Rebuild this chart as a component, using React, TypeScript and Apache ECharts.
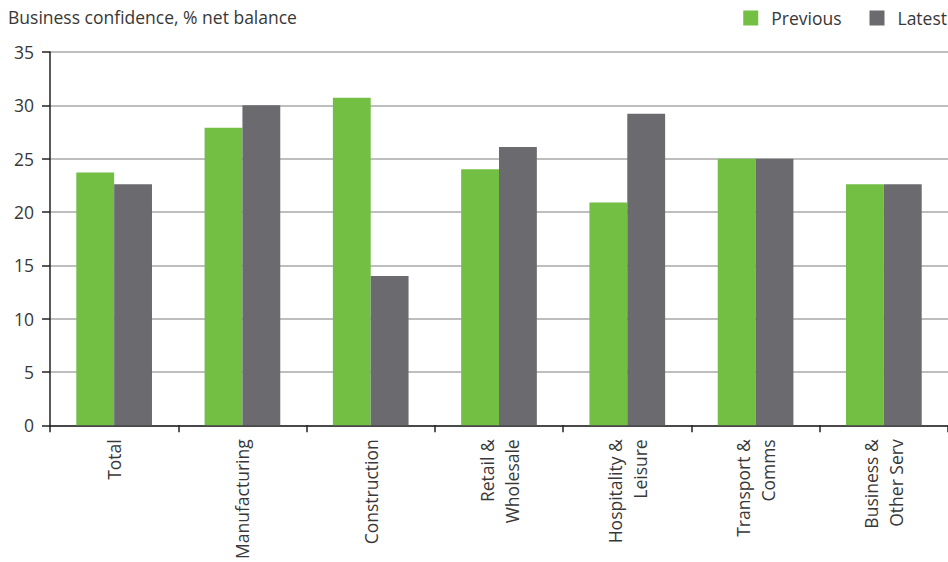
import React, { useEffect, useRef } from "react";
import * as echarts from "echarts";

const categories = [
  "Total",
  "Manufacturing",
  "Construction",
  "Retail &\nWholesale",
  "Hospitality &\nLeisure",
  "Transport &\nComms",
  "Business &\nOther Serv",
];
const previous = [23.7, 27.9, 30.7, 24.0, 20.9, 25.0, 22.6];
const latest = [22.6, 30.0, 14.0, 26.1, 29.2, 25.0, 22.6];
const yTicks = { min: 0, max: 35, interval: 5 };
const title = "Business confidence, % net balance";

const FONT = "'Open Sans', 'Noto Sans', sans-serif";
const TEXT = "#383838";
const FS = 17.5;

export default function App() {
  const ref = useRef<HTMLDivElement>(null);
  useEffect(() => {
    if (!ref.current) return;
    const chart = echarts.init(ref.current, undefined, { renderer: "svg" });
    chart.setOption({
      animation: false,
      textStyle: { fontFamily: FONT },
      title: {
        text: title,
        left: 8,
        top: 8,
        padding: 0,
        textStyle: { fontFamily: FONT, fontSize: FS, fontWeight: "normal", color: TEXT },
      },
      legend: {
        right: 1,
        top: 9,
        padding: 0,
        itemWidth: 15,
        itemHeight: 15,
        itemGap: 28,
        icon: "rect",
        textStyle: { fontFamily: FONT, fontSize: FS, color: TEXT, padding: [0, 0, 0, 8] },
        data: ["Previous", "Latest"],
      },
      grid: { left: 50, right: 0, top: 52, bottom: 136.5, containLabel: false },
      xAxis: {
        type: "category",
        data: categories,
        axisLine: { lineStyle: { color: "#222", width: 1.5 } },
        axisTick: { show: true, length: 7, lineStyle: { color: "#222", width: 1.5 } },
        axisLabel: {
          rotate: 90,
          interval: 0,
          margin: 14,
          fontFamily: FONT,
          fontSize: FS,
          lineHeight: 25,
          color: TEXT,
        },
      },
      yAxis: {
        type: "value",
        min: yTicks.min,
        max: yTicks.max,
        interval: yTicks.interval,
        axisLine: { show: true, lineStyle: { color: "#222", width: 1.5 } },
        axisTick: { show: true, length: 8, lineStyle: { color: "#222", width: 1.5 } },
        axisLabel: { fontFamily: FONT, fontSize: FS, color: TEXT, margin: 16 },
        splitLine: { show: true, lineStyle: { color: "#a8a8a8", width: 1.5 } },
      },
      series: [
        {
          name: "Previous",
          type: "bar",
          data: previous,
          itemStyle: { color: "#72bf44" },
          barGap: "0%",
          barCategoryGap: "41%",
        },
        {
          name: "Latest",
          type: "bar",
          data: latest,
          itemStyle: { color: "#6b6b6f" },
          barGap: "0%",
          barCategoryGap: "41%",
        },
      ],
    });
    return () => chart.dispose();
  }, []);
  return (
    <div
      ref={ref}
      style={{ position: "fixed", left: 0, top: 0, width: 948, height: 562, background: "#fff" }}
    />
  );
}
